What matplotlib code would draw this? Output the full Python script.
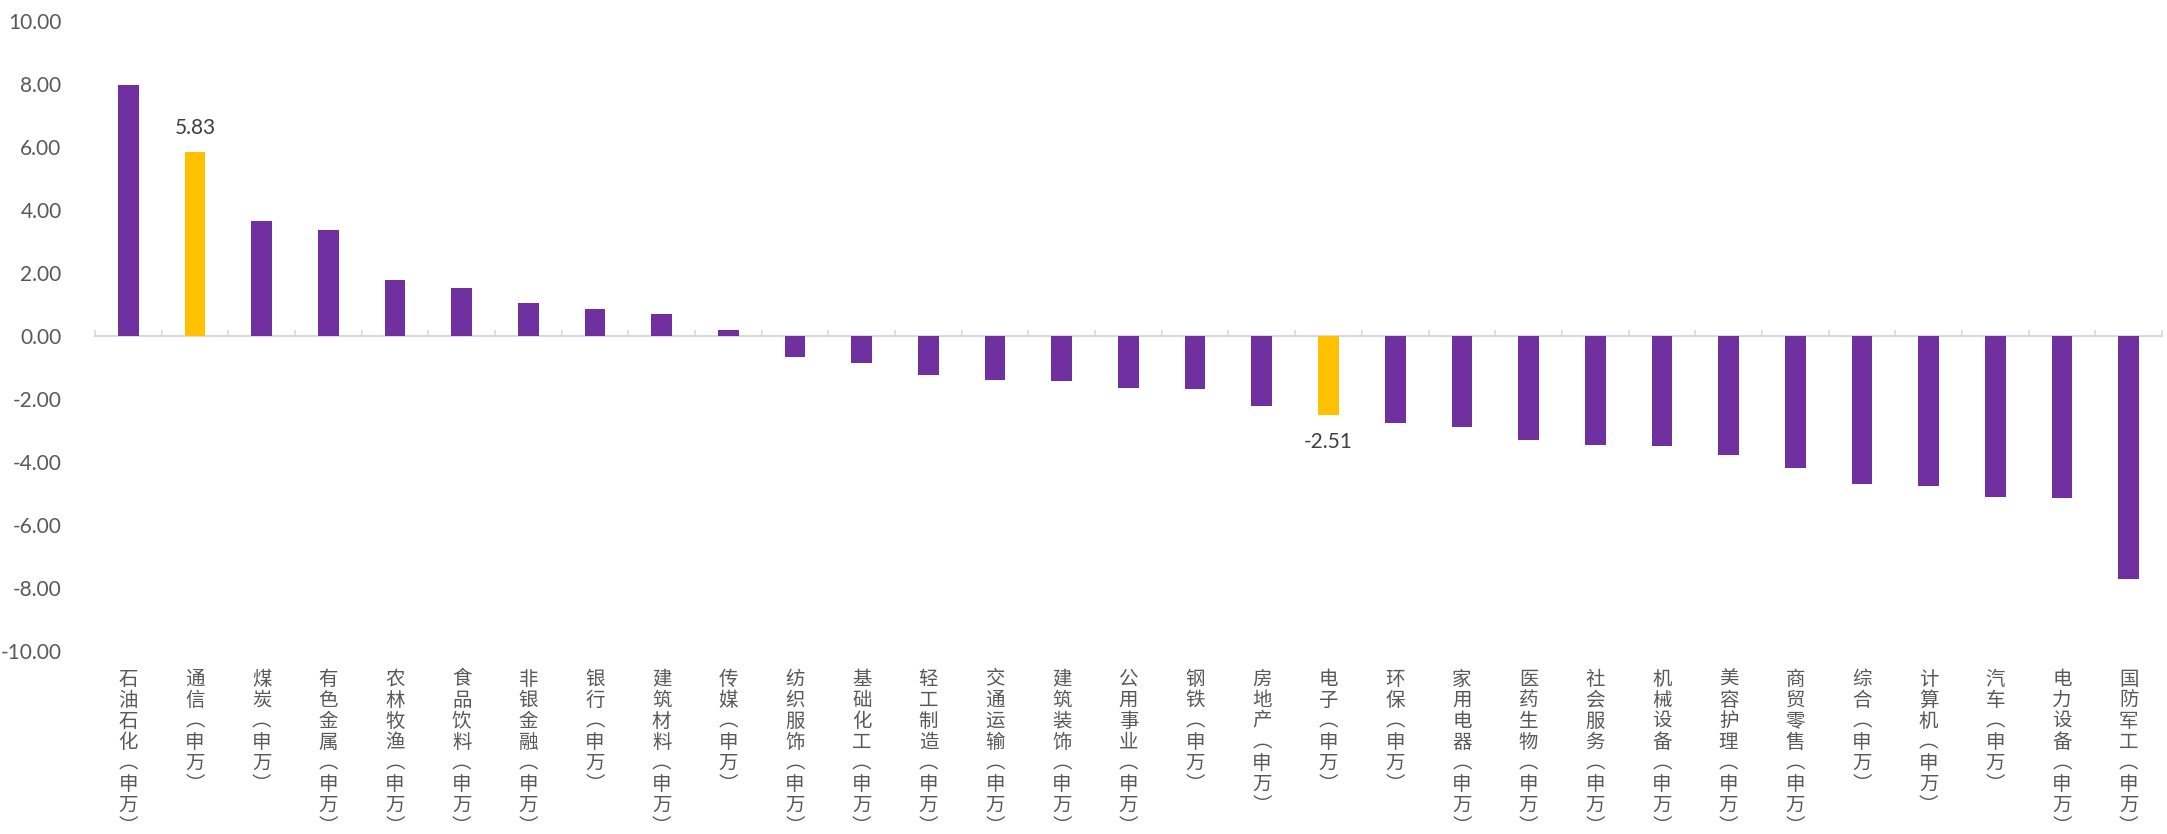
import matplotlib
matplotlib.use("Agg")
import matplotlib.pyplot as plt
import matplotlib.transforms as mtransforms
import numpy as np

plt.rcParams['font.family'] = ['Noto Sans CJK SC', 'DejaVu Sans']

categories = ["石油石化", "通信", "煤炭", "有色金属", "农林牧渔", "食品饮料", "非银金融", "银行",
              "建筑材料", "传媒", "纺织服饰", "基础化工", "轻工制造", "交通运输", "建筑装饰",
              "公用事业", "钢铁", "房地产", "电子", "环保", "家用电器", "医药生物", "社会服务",
              "机械设备", "美容护理", "商贸零售", "综合", "计算机", "汽车", "电力设备", "国防军工"]
values = [7.95, 5.83, 3.66, 3.35, 1.79, 1.53, 1.05, 0.84, 0.71, 0.20, -0.67, -0.86, -1.24,
          -1.40, -1.43, -1.65, -1.67, -2.21, -2.51, -2.78, -2.90, -3.32, -3.45, -3.50, -3.77,
          -4.20, -4.70, -4.78, -5.10, -5.13, -7.72]
highlight = ["通信", "电子"]
y_ticks = [-10, -8, -6, -4, -2, 0, 2, 4, 6, 8, 10]

PURPLE = "#7030A0"
YELLOW = "#FFC000"

fig = plt.figure(figsize=(21.67, 8.34), dpi=100)
ax = fig.add_axes([0.0438, 0.2195, 0.9539, 0.7555])

x = np.arange(len(categories))
colors = [YELLOW if c in highlight else PURPLE for c in categories]
ax.bar(x, values, width=0.31, color=colors, zorder=3)

ax.set_xlim(-0.5, len(categories) - 0.5)
ax.set_ylim(-10, 10)
ax.set_yticks(y_ticks)
ax.set_yticklabels([f"{v:.2f}" for v in y_ticks], family=['Lato', 'DejaVu Sans'],
                   fontsize=15, color="#595959")
ax.tick_params(axis='y', length=0, pad=24)

for s in ['left', 'right', 'top']:
    ax.spines[s].set_visible(False)
ax.spines['bottom'].set_position(('data', 0))
ax.spines['bottom'].set_color("#D9D9D9")
ax.spines['bottom'].set_linewidth(1.5)
ax.spines['bottom'].set_zorder(2)
ax.set_xticks(np.arange(len(categories) + 1) - 0.5)
ax.set_xticklabels([])
ax.tick_params(axis='x', direction='in', length=4, width=1.2, color="#D9D9D9")

# data labels for highlighted bars
for xi, c, v in zip(x, categories, values):
    if c in highlight:
        off = 10 if v >= 0 else -12
        ax.annotate(f"{v:.2f}", (xi, v), xytext=(0, off), textcoords='offset points',
                    ha='center', va='bottom' if v >= 0 else 'top',
                    fontsize=15, color="#404040", family=['Lato', 'DejaVu Sans'])

# vertical stacked category labels
trans = mtransforms.blended_transform_factory(ax.transData, ax.transAxes)
for xi, c in zip(x, categories):
    label = c + "︵申万︶"
    ax.text(xi, -0.028, "\n".join(label), transform=trans, ha='center', va='top',
            fontsize=14, color="#595959", linespacing=1.0)

fig.savefig("out.png", dpi=100, facecolor="white")
